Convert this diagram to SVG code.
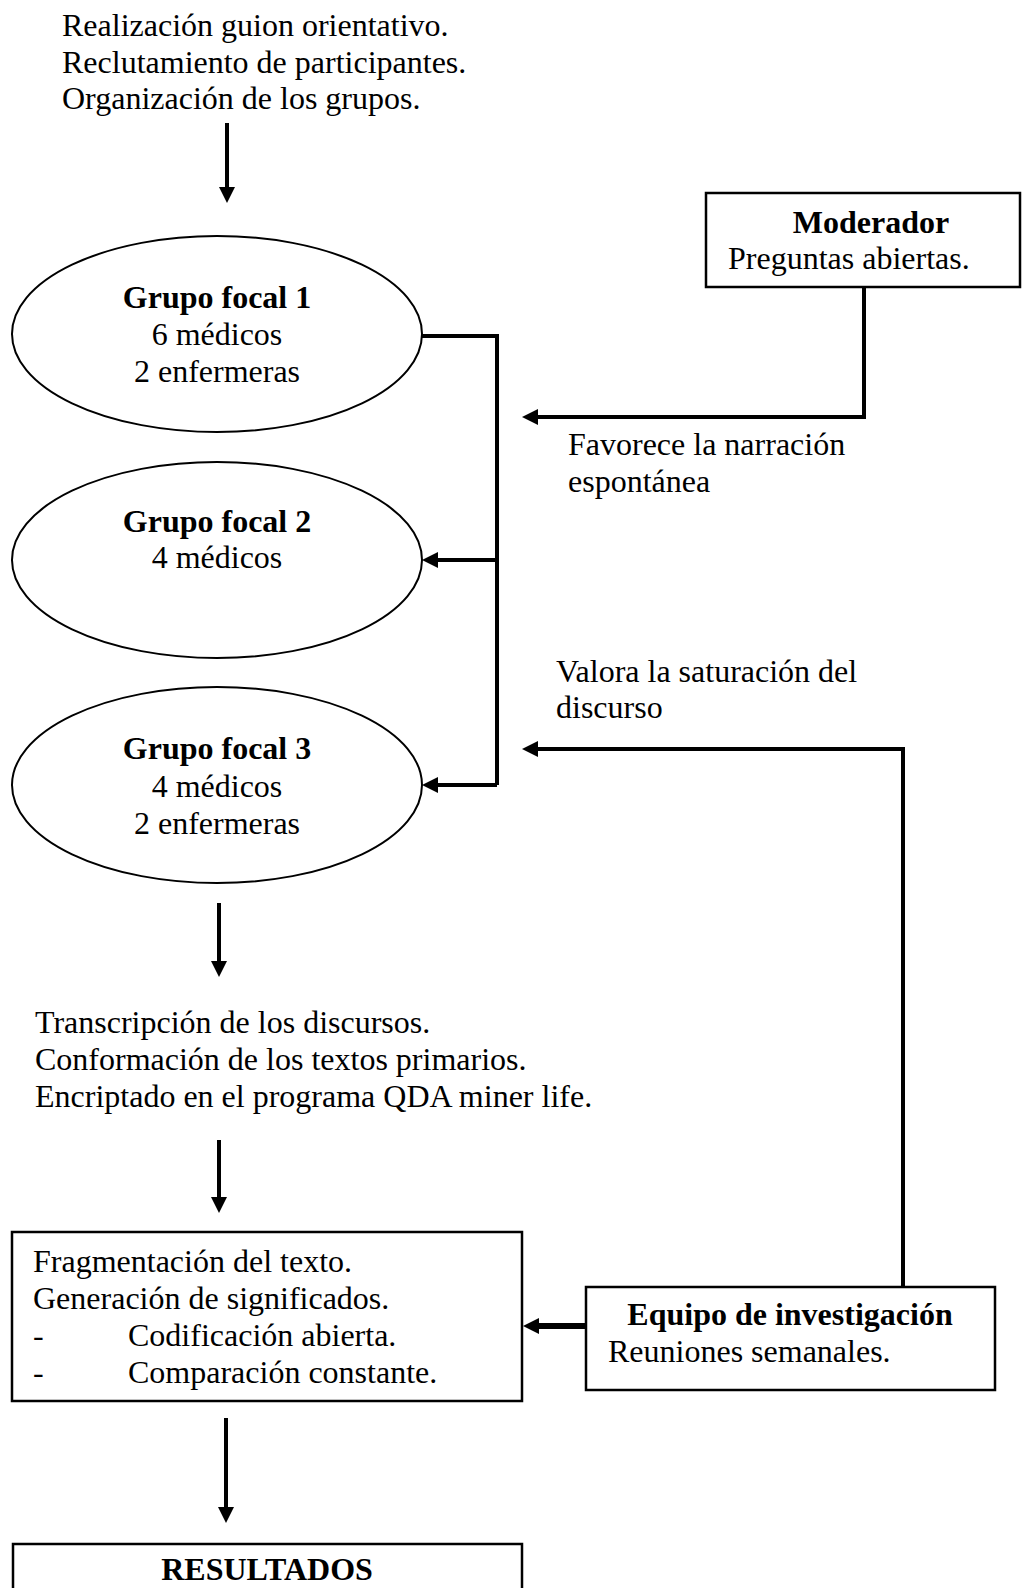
<svg xmlns="http://www.w3.org/2000/svg" width="1022" height="1588" viewBox="0 0 1022 1588">
<defs>
<style>
text{font-family:"Liberation Serif","Times New Roman",serif;font-size:32px;fill:#000}
.b{font-weight:bold}
.c{text-anchor:middle}
.shape{fill:#fff;stroke:#000;stroke-width:2.5}
.ell{fill:#fff;stroke:#000;stroke-width:2}
.con{fill:none;stroke:#000;stroke-width:4;stroke-linejoin:miter}
.arr{marker-end:url(#ah)}
</style>
<marker id="ah" viewBox="0 0 16 16" refX="2" refY="8" markerWidth="16" markerHeight="16" markerUnits="userSpaceOnUse" orient="auto">
<path d="M0,0 L16,8 L0,16 z" fill="#000"/>
</marker>
</defs>
<rect width="1022" height="1588" fill="#fff"/>

<g id="preparacion">
<text x="62" y="36">Realización guion orientativo.</text>
<text x="62" y="73">Reclutamiento de participantes.</text>
<text x="62" y="109">Organización de los grupos.</text>
</g>

<g id="moderador">
<rect class="shape" x="706" y="193" width="314" height="94"/>
<text class="b c" x="871" y="233">Moderador</text>
<text x="728" y="269">Preguntas abiertas.</text>
</g>

<g id="grupo1">
<ellipse class="ell" cx="217" cy="334" rx="205" ry="98"/>
<text class="b c" x="217" y="308">Grupo focal 1</text>
<text class="c" x="217" y="345">6 médicos</text>
<text class="c" x="217" y="382">2 enfermeras</text>
</g>

<g id="grupo2">
<ellipse class="ell" cx="217" cy="560" rx="205" ry="98"/>
<text class="b c" x="217" y="532">Grupo focal 2</text>
<text class="c" x="217" y="568">4 médicos</text>
</g>

<g id="grupo3">
<ellipse class="ell" cx="217" cy="785" rx="205" ry="98"/>
<text class="b c" x="217" y="759">Grupo focal 3</text>
<text class="c" x="217" y="797">4 médicos</text>
<text class="c" x="217" y="834">2 enfermeras</text>
</g>

<g id="etiqueta-favorece">
<text x="568" y="455">Favorece la narración</text>
<text x="568" y="492">espontánea</text>
</g>

<g id="etiqueta-valora">
<text x="556" y="682">Valora la saturación del</text>
<text x="556" y="718">discurso</text>
</g>

<g id="transcripcion">
<text x="35" y="1033">Transcripción de los discursos.</text>
<text x="35" y="1070">Conformación de los textos primarios.</text>
<text x="35" y="1107">Encriptado en el programa QDA miner life.</text>
</g>

<g id="fragmentacion">
<rect class="shape" x="12" y="1232" width="510" height="169"/>
<text x="33" y="1272">Fragmentación del texto.</text>
<text x="33" y="1309">Generación de significados.</text>
<text x="33" y="1346">-</text>
<text x="128" y="1346">Codificación abierta.</text>
<text x="33" y="1383">-</text>
<text x="128" y="1383">Comparación constante.</text>
</g>

<g id="equipo">
<rect class="shape" x="586" y="1287" width="409" height="103"/>
<text class="b c" x="790" y="1325">Equipo de investigación</text>
<text x="608" y="1362">Reuniones semanales.</text>
</g>

<g id="resultados">
<rect class="shape" x="13" y="1544" width="509" height="60"/>
<text class="b c" x="267" y="1580">RESULTADOS</text>
</g>

<g id="connectors">
<path class="con arr" d="M227,123 V189"/>
<path class="con" d="M422,336 H497 V785"/>
<path class="con arr" d="M497,560 H436"/>
<path class="con arr" d="M497,785 H436"/>
<path class="con arr" d="M864,287 V417 H536"/>
<path class="con arr" d="M903,1287 V749 H536"/>
<path class="con arr" d="M219,903 V963"/>
<path class="con arr" d="M219,1140 V1199"/>
<path class="con arr" style="stroke-width:6" d="M586,1326 H537"/>
<path class="con arr" d="M226,1418 V1509"/>
</g>
</svg>
